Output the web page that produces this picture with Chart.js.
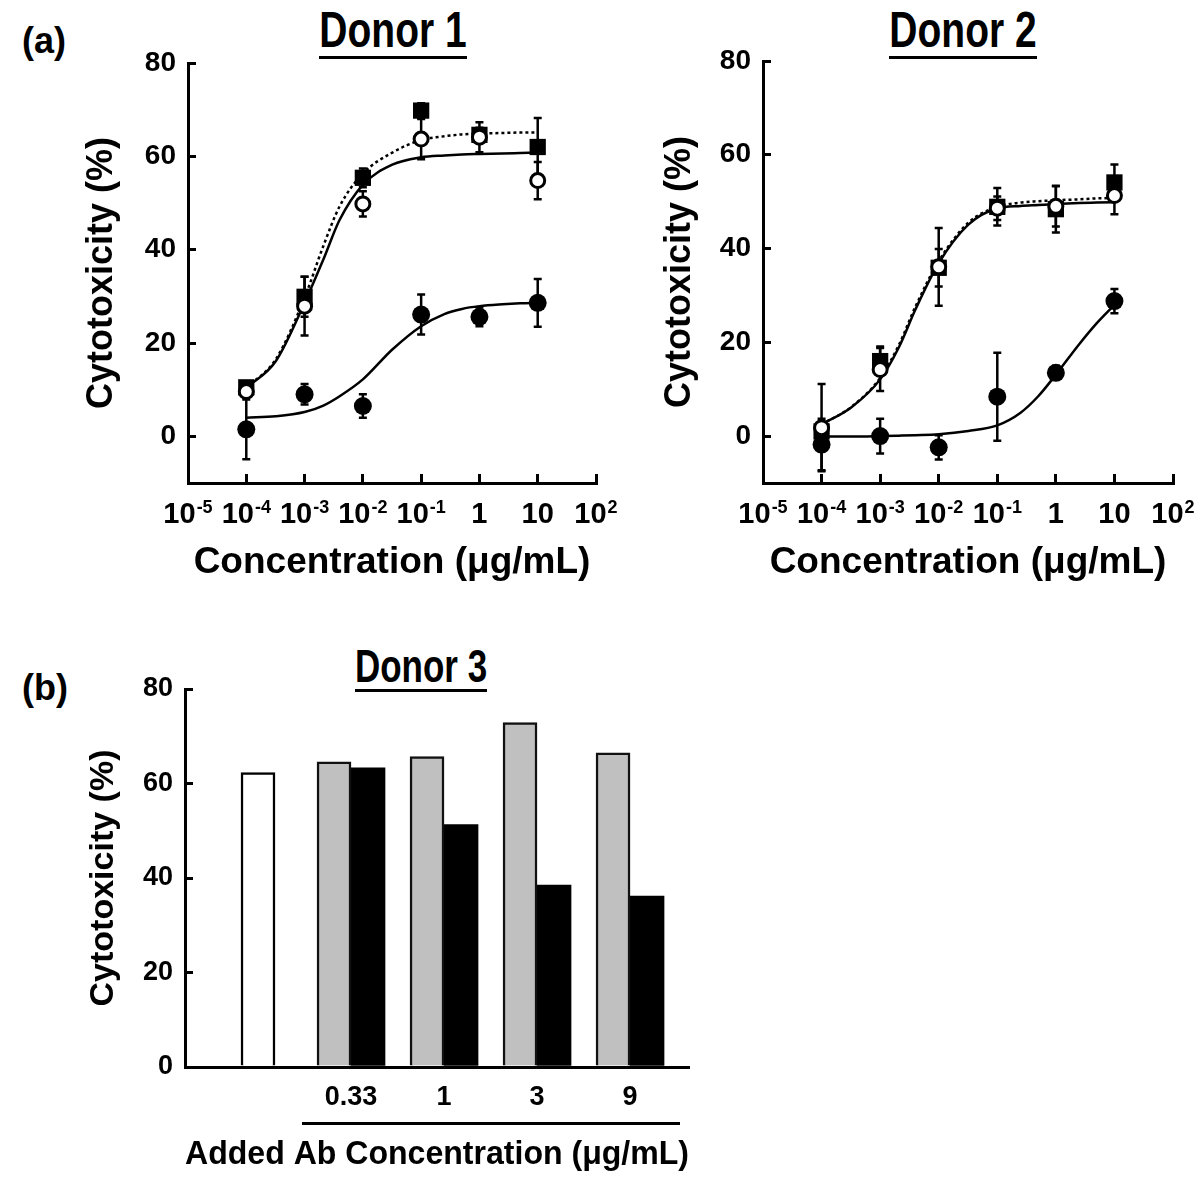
<!DOCTYPE html>
<html>
<head>
<meta charset="utf-8">
<script src="https://cdn.jsdelivr.net/npm/chart.js@4.4.1/dist/chart.umd.min.js"></script>
<style>
  html, body { margin: 0; padding: 0; background: #fff; }
  body { position: relative; width: 1200px; height: 1181px; overflow: hidden;
         font-family: 'Liberation Sans', Arial, Helvetica, sans-serif; font-weight: bold; color: #000; }
  canvas { position: absolute; }
  .panel { position: absolute; font-size: 36px; line-height: 1; }
  .donor { position: absolute; line-height: 1; text-align: center; }
  .donor > span { display: inline-block; border-bottom: 3px solid #000; padding-bottom: 1px; }
  .donor > span > span { display: inline-block; transform: scaleY(1.3); transform-origin: 50% 100%; }
  .rule { position: absolute; background: #000; height: 3px; }
</style>
</head>
<body>
<div class="panel" style="left:22px; top:23px;">(a)</div>
<div class="panel" style="left:22px; top:670px;">(b)</div>
<div class="donor" style="left:293px; width:200px; top:16px; font-size:39px;"><span><span>Donor 1</span></span></div>
<div class="donor" style="left:863px; width:200px; top:16px; font-size:39px;"><span><span>Donor 2</span></span></div>
<div class="donor" style="left:321px; width:200px; top:653px; font-size:35px;"><span><span>Donor 3</span></span></div>
<div class="rule" style="left:302px; top:1122px; width:378px;"></div>

<canvas id="chartDonor1" width="640" height="620" style="left:0; top:0;"></canvas>
<canvas id="chartDonor2" width="630" height="620" style="left:570px; top:0;"></canvas>
<canvas id="chartDonor3" width="720" height="561" style="left:0; top:620px;"></canvas>

<script>
'use strict';
// ---- data ----
var concentrations = [1e-4, 1e-3, 1e-2, 1e-1, 1, 10];
var xTickValues = [1e-5, 1e-4, 1e-3, 1e-2, 1e-1, 1, 10, 100];
var xTickBase = ['10', '10', '10', '10', '10', '1', '10', '10'];
var xTickExp = ['-5', '-4', '-3', '-2', '-1', '', '', '2'];
var yTickValues = [0, 20, 40, 60, 80];

// donor 1 markers (mean, error)
var d1Square = [10.5, 29.9, 55.4, 69.8, 64.6, 62.0];
var d1SquareErr = [1.0, 4.3, 2.0, 1.6, 1.5, 6.2];
var d1Open = [9.6, 27.9, 49.8, 63.7, 64.1, 54.8];
var d1OpenErr = [1.0, 6.3, 2.7, 4.3, 3.2, 4.0];
var d1Filled = [1.5, 9.0, 6.5, 26.1, 25.6, 28.6];
var d1FilledErr = [6.4, 2.2, 2.5, 4.3, 2.0, 5.1];

// donor 2 markers
var d2Square = [1.0, 16.0, 35.9, 48.9, 48.4, 54.1];
var d2SquareErr = [1.0, 3.1, 4.0, 4.0, 5.0, 3.8];
var d2Open = [1.8, 14.2, 36.1, 48.6, 49.0, 51.3];
var d2OpenErr = [9.3, 4.6, 8.3, 2.5, 4.3, 4.0];
var d2Filled = [-1.8, 0.0, -2.4, 8.4, 13.5, 28.8];
var d2FilledErr = [5.5, 3.7, 2.6, 9.4, 1.5, 2.6];

// fitted curves at these concentrations
var curveX = [1e-4, 3.2e-4, 1e-3, 2.1e-3, 4e-3, 1e-2, 3.2e-2, 0.1, 0.25, 0.5, 1, 2.5, 5, 10];
var d1SquareFit = [10.4, 16.5, 29.7, 40.8, 49.3, 56.3, 60.8, 63.5, 64.3, 64.7, 64.9, 65.0, 65.1, 65.1];
var d1OpenFit = [10.4, 16.1, 28.6, 37.9, 46.4, 53.9, 58.2, 59.8, 60.2, 60.4, 60.5, 60.6, 60.7, 60.8];
var d1FilledFit = [4.0, 4.3, 5.2, 6.6, 8.6, 12.2, 18.6, 23.6, 26.2, 27.3, 27.9, 28.3, 28.5, 28.6];
var d2SquareFit = [2.5, 6.2, 12.4, 19.5, 27.6, 37.3, 45.5, 48.9, 49.8, 50.1, 50.3, 50.5, 50.7, 50.8];
var d2OpenFit = [2.5, 6.1, 12.1, 19.0, 27.0, 36.9, 45.1, 48.6, 49.1, 49.3, 49.5, 49.7, 49.8, 49.9];
var d2FilledFit = [-0.1, -0.1, 0.0, 0.1, 0.2, 0.4, 1.1, 2.3, 5.0, 8.5, 13.1, 19.6, 24.1, 28.0];

// donor 3 bars
var barCategories = ['', '0.33', '1', '3', '9'];
var controlBar = [62.3, null, null, null, null];
var grayBar = [null, 64.6, 65.7, 72.9, 66.5];
var blackBar = [null, 63.3, 51.3, 38.5, 36.2];

// ---- chart setup ----
var FONT = "'Liberation Sans', Arial, Helvetica, sans-serif";
Chart.defaults.font.family = FONT;
Chart.defaults.font.weight = 'bold';
Chart.defaults.color = '#000';

function pairs(xs, ys) {
	return xs.map(function(x, i) { return { x: x, y: ys[i] }; });
}

// vertical error bars with caps, drawn under the markers
var errorBars = {
	id: 'errorBars',
	beforeDatasetsDraw: function(chart) {
		var ctx = chart.ctx;
		var yScale = chart.scales.y;
		chart.data.datasets.forEach(function(ds, i) {
			if (!ds.errors) return;
			var meta = chart.getDatasetMeta(i);
			ctx.save();
			ctx.strokeStyle = '#000';
			ctx.lineWidth = 2.5;
			meta.data.forEach(function(pt, j) {
				var v = ds.data[j].y, e = ds.errors[j];
				var top = yScale.getPixelForValue(v + e);
				var bot = yScale.getPixelForValue(v - e);
				ctx.beginPath();
				ctx.moveTo(pt.x, top); ctx.lineTo(pt.x, bot);
				ctx.moveTo(pt.x - 4, top); ctx.lineTo(pt.x + 4, top);
				ctx.moveTo(pt.x - 4, bot); ctx.lineTo(pt.x + 4, bot);
				ctx.stroke();
			});
			ctx.restore();
		});
	}
};

// "10" with a raised exponent under each log tick
var powerTickLabels = {
	id: 'powerTickLabels',
	afterDraw: function(chart) {
		var ctx = chart.ctx;
		var xs = chart.scales.x;
		var base = xs.top + 40;
		ctx.save();
		ctx.fillStyle = '#000';
		ctx.textBaseline = 'alphabetic';
		ctx.textAlign = 'left';
		xTickValues.forEach(function(v, i) {
			var px = xs.getPixelForValue(v);
			ctx.font = 'bold 29px ' + FONT;
			var w1 = ctx.measureText(xTickBase[i]).width;
			ctx.font = 'bold 18px ' + FONT;
			var w2 = xTickExp[i] ? ctx.measureText(xTickExp[i]).width + 1 : 0;
			var left = px - (w1 + w2) / 2;
			ctx.font = 'bold 29px ' + FONT;
			ctx.fillText(xTickBase[i], left, base);
			if (xTickExp[i]) {
				ctx.font = 'bold 18px ' + FONT;
				ctx.fillText(xTickExp[i], left + w1 + 1, base - 10);
			}
		});
		ctx.restore();
	}
};

function donorChart(id, s, box) {
	var marker = function(data, err, style) {
		return Object.assign({ data: pairs(concentrations, data), errors: err, showLine: false }, style);
	};
	var curve = function(data, dash) {
		return { data: pairs(curveX, data), showLine: true, pointRadius: 0, borderColor: '#000',
			borderWidth: 2.5, borderDash: dash, cubicInterpolationMode: 'monotone', fill: false };
	};
	return new Chart(document.getElementById(id), {
		type: 'scatter',
		data: {
			datasets: [
				marker(s.open, s.openErr, { pointStyle: 'circle', pointRadius: 7, pointBackgroundColor: '#fff', pointBorderColor: '#000', pointBorderWidth: 3 }),
				marker(s.filled, s.filledErr, { pointStyle: 'circle', pointRadius: 9, pointBackgroundColor: '#000', pointBorderWidth: 0 }),
				marker(s.square, s.squareErr, { pointStyle: 'rect', pointRadius: 11.5, pointBackgroundColor: '#000', pointBorderWidth: 0 }),
				curve(s.squareFit, [3, 3]),
				curve(s.openFit, []),
				curve(s.filledFit, [])
			]
		},
		options: {
			responsive: false,
			animation: false,
			layout: { padding: box.padding },
			plugins: { legend: { display: false }, tooltip: { enabled: false } },
			scales: {
				x: {
					type: 'logarithmic',
					min: 1e-5,
					max: 100,
					afterBuildTicks: function(scale) { scale.ticks = xTickValues.map(function(v) { return { value: v }; }); },
					afterFit: function(scale) { scale.height = box.xHeight; },
					ticks: { display: false },
					grid: { drawOnChartArea: false, tickLength: -9, color: '#000', lineWidth: 3 },
					border: { display: true, color: '#000', width: 3 },
					title: { display: true, text: 'Concentration (\u03BCg/mL)', font: { size: 37 }, padding: { top: 0, bottom: 35 } }
				},
				y: {
					min: -10,
					max: 80,
					afterBuildTicks: function(scale) { scale.ticks = yTickValues.map(function(v) { return { value: v }; }); },
					afterFit: function(scale) { scale.width = box.yWidth; },
					ticks: { padding: 20, font: { size: 28 } },
					grid: { drawOnChartArea: false, tickLength: -8, color: '#000', lineWidth: 3 },
					border: { display: true, color: '#000', width: 3 },
					title: { display: true, text: 'Cytotoxicity (%)', font: { size: 36 }, padding: 0 }
				}
			}
		},
		plugins: [errorBars, powerTickLabels]
	});
}

donorChart('chartDonor1', {
	square: d1Square, squareErr: d1SquareErr, open: d1Open, openErr: d1OpenErr,
	filled: d1Filled, filledErr: d1FilledErr,
	squareFit: d1SquareFit, openFit: d1OpenFit, filledFit: d1FilledFit
}, { padding: { left: 80, top: 63, right: 44, bottom: 0 }, yWidth: 108, xHeight: 137 });

donorChart('chartDonor2', {
	square: d2Square, squareErr: d2SquareErr, open: d2Open, openErr: d2OpenErr,
	filled: d2Filled, filledErr: d2FilledErr,
	squareFit: d2SquareFit, openFit: d2OpenFit, filledFit: d2FilledFit
}, { padding: { left: 88.4, top: 61, right: 27, bottom: 0 }, yWidth: 104.6, xHeight: 137 });

/** DONOR 3 BARS **/
var barIndex = barCategories.map(function(c, i) { return i; });
var barStyle = { barThickness: 34, skipNull: true, borderSkipped: 'start' };
new Chart(document.getElementById('chartDonor3'), {
	type: 'bar',
	data: {
		datasets: [
			Object.assign({ data: pairs(barIndex, controlBar), backgroundColor: '#fff', borderColor: '#000', borderWidth: 2.5 }, barStyle),
			Object.assign({ data: pairs(barIndex, grayBar), backgroundColor: '#c0c0c0', borderColor: '#111', borderWidth: 2.5 }, barStyle),
			Object.assign({ data: pairs(barIndex, blackBar), backgroundColor: '#000', borderColor: '#000', borderWidth: 0 }, barStyle)
		]
	},
	options: {
		responsive: false,
		animation: false,
		layout: { padding: { left: 83.6, top: 69, right: 31, bottom: 0 } },
		plugins: { legend: { display: false }, tooltip: { enabled: false } },
		scales: {
			x: {
				type: 'linear',
				offset: false,
				min: -0.785,
				max: 4.634,
				afterBuildTicks: function(scale) { scale.ticks = barIndex.map(function(i) { return { value: i }; }); },
				afterFit: function(scale) { scale.height = 114; },
				ticks: { padding: 14, autoSkip: false, maxRotation: 0, font: { size: 27 },
					callback: function(value) { return barCategories[value]; } },
				grid: { display: true, offset: false, drawOnChartArea: false, drawTicks: false },
				border: { display: true, color: '#000', width: 3 },
				title: { display: true, text: 'Added Ab Concentration (\u03BCg/mL)', font: { size: 33 }, padding: { top: 0, bottom: 6 } }
			},
			y: {
				min: 0,
				max: 80,
				afterBuildTicks: function(scale) { scale.ticks = yTickValues.map(function(v) { return { value: v }; }); },
				afterFit: function(scale) { scale.width = 101.4; },
				ticks: { padding: 20, font: { size: 27 } },
				grid: { drawOnChartArea: false, tickLength: -8, color: '#000', lineWidth: 3 },
				border: { display: true, color: '#000', width: 3 },
				title: { display: true, text: 'Cytotoxicity (%)', font: { size: 34 }, padding: 0 }
			}
		}
	}
});
</script>
</body>
</html>
